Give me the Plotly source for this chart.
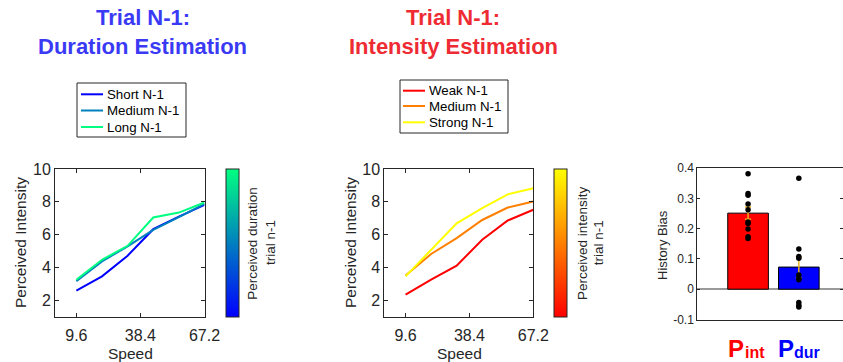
import plotly.graph_objects as go

W, H = 843, 362

# ---------------- data ----------------
speed = [9.6, 21.12, 32.64, 44.16, 55.68, 67.2]
speed_ticks = [9.6, 38.4, 67.2]
speed_ticklabels = ["9.6", "38.4", "67.2"]

dur_short = [2.60, 3.47, 4.73, 6.34, 7.10, 7.82]
dur_medium = [3.17, 4.38, 5.30, 6.30, 7.08, 7.88]
dur_long = [3.27, 4.48, 5.33, 7.05, 7.35, 7.96]

int_weak = [2.36, 3.27, 4.12, 5.70, 6.87, 7.52]
int_medium = [3.53, 4.83, 5.80, 6.90, 7.66, 8.02]
int_strong = [3.47, 5.10, 6.70, 7.62, 8.46, 8.83]

dur_names = ["Short N-1", "Medium N-1", "Long N-1"]
int_names = ["Weak N-1", "Medium N-1", "Strong N-1"]

bias_labels = ["int", "dur"]
bias_pos = [1, 2]
bias_means = [0.251, 0.073]
bias_err = [0.020, 0.035]
bias_int_subjects = [0.381, 0.316, 0.310, 0.281, 0.262, 0.222, 0.217, 0.199, 0.173, 0.167]
bias_dur_subjects = [0.366, 0.133, 0.108, 0.102, 0.047, 0.036, 0.031, -0.044, -0.053, -0.059]
bias_ticks = [-0.1, 0, 0.1, 0.2, 0.3, 0.4]
bias_ticklabels = ["-0.1", "0", "0.1", "0.2", "0.3", "0.4"]

# ---------------- styles ----------------
FONT = "Liberation Sans, Arial, Helvetica, sans-serif"
AX = "#262626"
winter = ["rgb(0,0,255)", "rgb(0,128,191)", "rgb(0,255,128)"]
autumn = ["rgb(255,0,0)", "rgb(255,128,0)", "rgb(255,255,0)"]


def px(x):
    return x / W


def py(y):
    return 1 - y / H


fig = go.Figure()

for name, vals, col in zip(dur_names, [dur_short, dur_medium, dur_long], winter):
    fig.add_trace(go.Scatter(x=speed, y=vals, mode="lines", name=name,
                             line=dict(color=col, width=2), showlegend=False,
                             xaxis="x", yaxis="y"))
for name, vals, col in zip(int_names, [int_weak, int_medium, int_strong], autumn):
    fig.add_trace(go.Scatter(x=speed, y=vals, mode="lines", name=name,
                             line=dict(color=col, width=2), showlegend=False,
                             xaxis="x2", yaxis="y2"))

# invisible traces carrying the colorbars
fig.add_trace(go.Scatter(x=[speed[0], speed[0]], y=[5, 5], mode="markers",
                         marker=dict(color=[0, 1], coloraxis="coloraxis", opacity=0),
                         showlegend=False, hoverinfo="skip", xaxis="x", yaxis="y"))
fig.add_trace(go.Scatter(x=[speed[0], speed[0]], y=[5, 5], mode="markers",
                         marker=dict(color=[0, 1], coloraxis="coloraxis2", opacity=0),
                         showlegend=False, hoverinfo="skip", xaxis="x2", yaxis="y2"))

# bar panel
fig.add_trace(go.Bar(x=bias_pos, y=bias_means, width=0.8,
                     marker=dict(color=["#FF0000", "#0000FF"], line=dict(color="black", width=1)),
                     error_y=dict(type="data", array=bias_err, color="#EDB120", thickness=1.5, width=3),
                     showlegend=False, xaxis="x3", yaxis="y3"))
fig.add_trace(go.Scatter(x=[bias_pos[0]] * len(bias_int_subjects) + [bias_pos[1]] * len(bias_dur_subjects),
                         y=bias_int_subjects + bias_dur_subjects, mode="markers",
                         marker=dict(color="black", size=5.5),
                         showlegend=False, xaxis="x3", yaxis="y3"))

common_axis = dict(showline=True, linecolor=AX, linewidth=1, mirror="ticks",
                   ticks="inside", ticklen=4, tickcolor=AX, tickwidth=1,
                   showgrid=False, zeroline=False, automargin=False,
                   tickfont=dict(family=FONT, size=16, color=AX))

fig.update_layout(
    width=W, height=H, margin=dict(l=0, r=0, t=0, b=0, autoexpand=False),
    paper_bgcolor="white", plot_bgcolor="white",
    font=dict(family=FONT, color=AX), showlegend=False,
    xaxis=dict(domain=[px(55), px(204.5)], range=[0, 67.2], tickvals=speed_ticks,
               ticktext=speed_ticklabels, anchor="y", ticklabelstandoff=4, **common_axis),
    yaxis=dict(domain=[py(317), py(169)], range=[1, 10], tickvals=[2, 4, 6, 8, 10],
               anchor="x", **common_axis),
    xaxis2=dict(domain=[px(384.3), px(533.3)], range=[0, 67.2], tickvals=speed_ticks,
                ticktext=speed_ticklabels, anchor="y2", ticklabelstandoff=4, **common_axis),
    yaxis2=dict(domain=[py(317), py(169)], range=[1, 10], tickvals=[2, 4, 6, 8, 10],
                anchor="x2", **common_axis),
    xaxis3=dict(domain=[px(697.3), 1.0], range=[0, 2.87], showline=True, linecolor=AX,
                linewidth=1, mirror=True, ticks="", showticklabels=False,
                showgrid=False, zeroline=False, automargin=False, anchor="y3"),
    yaxis3=dict(domain=[py(319.5), py(168)], range=[-0.1, 0.4], tickvals=bias_ticks,
                ticktext=bias_ticklabels, showline=True, linecolor=AX, linewidth=1,
                mirror="ticks", ticks="inside", ticklen=3, tickcolor=AX,
                showgrid=False, zeroline=True, zerolinecolor="#9a9a9a", zerolinewidth=1.5,
                automargin=False,
                tickfont=dict(family=FONT, size=12, color=AX), anchor="x3"),
    coloraxis=dict(cmin=0, cmax=1, colorscale=[[0, winter[0]], [1, winter[2]]],
                   colorbar=dict(x=px(226), xanchor="left", xpad=0, ypad=0,
                                 y=py(243), yanchor="middle", len=148, lenmode="pixels",
                                 thickness=13, outlinewidth=1, outlinecolor=AX,
                                 showticklabels=False, ticks="")),
    coloraxis2=dict(cmin=0, cmax=1, colorscale=[[0, autumn[0]], [1, autumn[2]]],
                    colorbar=dict(x=px(554.3), xanchor="left", xpad=0, ypad=0,
                                  y=py(243), yanchor="middle", len=148, lenmode="pixels",
                                  thickness=13, outlinewidth=1, outlinecolor=AX,
                                  showticklabels=False, ticks="")),
    bargap=0.2,
)

ann = []
shapes = []


def add_text(text, x, y, size, color=AX, angle=0, bold=False, xanchor="center", yanchor="middle"):
    if bold:
        text = "<b>" + text + "</b>"
    ann.append(dict(text=text, x=px(x), y=py(y), xref="paper", yref="paper",
                    xanchor=xanchor, yanchor=yanchor, showarrow=False, textangle=angle,
                    font=dict(family=FONT, size=size, color=color)))


def add_legend(names, colors, box, rows, x_line, x_text):
    x0, y0, x1, y1 = box
    shapes.append(dict(type="rect", xref="paper", yref="paper",
                       x0=px(x0), x1=px(x1), y0=py(y1), y1=py(y0),
                       line=dict(color=AX, width=1), fillcolor="white", layer="above"))
    for name, col, yy in zip(names, colors, rows):
        shapes.append(dict(type="line", xref="paper", yref="paper",
                           x0=px(x_line[0]), x1=px(x_line[1]), y0=py(yy), y1=py(yy),
                           line=dict(color=col, width=2), layer="above"))
        add_text(name, x_text, yy, 13.3, color="black", xanchor="left")


TBLUE = "#3A3AF4"
TRED = "#EE2B33"
add_text("Trial N-1:", 142.5, 18, 22, TBLUE, bold=True)
add_text("Duration Estimation", 142.5, 46, 22, TBLUE, bold=True)
add_text("Trial N-1:", 453, 18, 22, TRED, bold=True)
add_text("Intensity Estimation", 453, 46, 22, TRED, bold=True)

add_legend(dur_names, winter, (77, 83, 186, 137), [94.3, 110.5, 127], (81, 103), 105)
add_legend(int_names, autumn, (400, 80, 508, 133), [90.7, 106, 122.3], (403, 425), 427)

add_text("Perceived Intensity", 20, 243, 15.5, angle=-90)
add_text("Perceived Intensity", 350, 243, 15.5, angle=-90)
add_text("Speed", 130, 353, 15.5)
add_text("Speed", 459, 353, 15.5)
add_text("History Bias", 662, 245, 13, angle=-90)

add_text("Perceived duration", 251.7, 243, 13.5, angle=-90)
add_text("trial n-1", 270, 243, 13.5, angle=-90)
add_text("Perceived intensity", 582, 243, 13.5, angle=-90)
add_text("trial n-1", 598.3, 243, 13.5, angle=-90)

add_text("P", 735.5, 348.5, 24, "#FF0000", bold=True)
add_text(bias_labels[0], 742.5, 352, 16, "#FF0000", bold=True, xanchor="left")
add_text("P", 785.5, 348.5, 24, "#0000FF", bold=True)
add_text(bias_labels[1], 792, 352, 16, "#0000FF", bold=True, xanchor="left")

fig.update_layout(annotations=ann, shapes=shapes)

fig.write_html("out.html")
